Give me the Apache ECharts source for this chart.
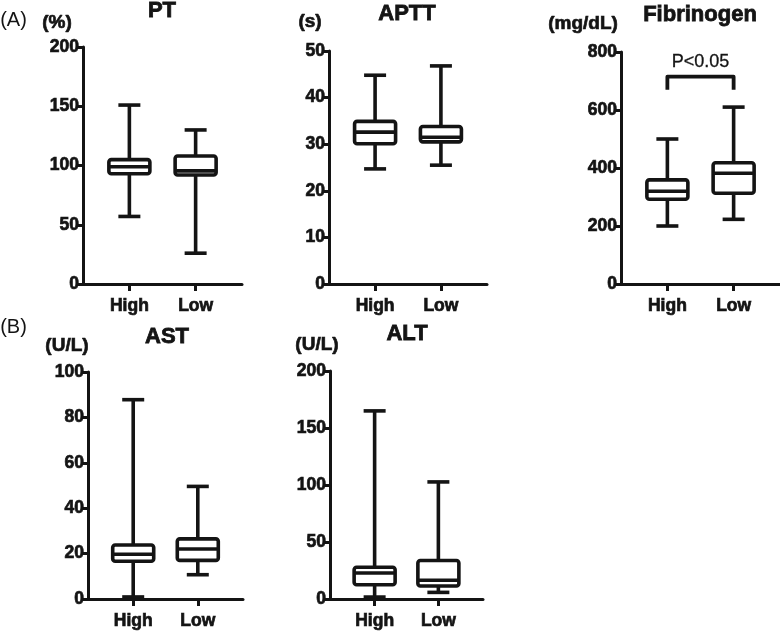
<!DOCTYPE html>
<html>
<head>
<meta charset="utf-8">
<script src="https://cdn.jsdelivr.net/npm/echarts@6/dist/echarts.min.js"></script>
<style>html,body{margin:0;padding:0;background:#fff}#c{width:780px;height:632px}</style>
</head>
<body>
<div id="c"></div>
<script>
// ---- data: [min, Q1, median, Q3, max] ----
const categories = ['High', 'Low'];
const ptHigh = [57, 93, 99, 105, 151];
const ptLow = [26, 92, 95.5, 108, 130];
const apttHigh = [24.7, 30.1, 32.6, 34.9, 44.8];
const apttLow = [25.5, 30.5, 31.5, 33.8, 46.8];
const fibHigh = [200, 292, 320, 359, 500];
const fibLow = [223, 313, 382, 418, 610];
const astHigh = [0.9, 16.6, 19.7, 23.8, 87.8];
const astLow = [10.7, 17, 22, 26.5, 49.6];
const altHigh = [1.7, 12.5, 22.8, 27.9, 165];
const altLow = [5.8, 11.4, 16.5, 33.8, 102.7];
const yMax = [200, 50, 800, 100, 200];
const yStep = [50, 10, 200, 20, 50];
const titles = ['PT', 'APTT', 'Fibrinogen', 'AST', 'ALT'];
const units = ['(%)', '(s)', '(mg/dL)', '(U/L)', '(U/L)'];
const fibBracket = [715, 670];   // bracket top, leg bottom (mg/dL)
const fibPText = 'P<0.05';
const fibPTextY = 764;

const panels = [[ptHigh, ptLow], [apttHigh, apttLow], [fibHigh, fibLow], [astHigh, astLow], [altHigh, altLow]];

const INK = '#141414';
const FONT = '"Liberation Sans", Arial, Helvetica, sans-serif';

const gridBoxes = [
  {left: 83, top: 47, width: 159, height: 237},
  {left: 329, top: 51, width: 158, height: 233},
  {left: 621, top: 52, width: 159, height: 232},
  {left: 88, top: 372, width: 155, height: 227},
  {left: 330, top: 371, width: 153, height: 228}
];

function boxRender(params, api) {
  const x = api.value(0);
  const v = [api.value(1), api.value(2), api.value(3), api.value(4), api.value(5)];
  const p = v.map(val => api.coord([x, val]));
  const cx = p[0][0];
  const hw = 20.5, cw = 11;
  const ls = {stroke: INK, lineWidth: 3.6, lineCap: 'butt'};
  return {
    type: 'group',
    children: [
      {type: 'line', shape: {x1: cx, y1: p[4][1], x2: cx, y2: p[3][1]}, style: ls},
      {type: 'line', shape: {x1: cx, y1: p[1][1], x2: cx, y2: p[0][1]}, style: ls},
      {type: 'line', shape: {x1: cx - cw, y1: p[4][1], x2: cx + cw, y2: p[4][1]}, style: ls},
      {type: 'line', shape: {x1: cx - cw, y1: p[0][1], x2: cx + cw, y2: p[0][1]}, style: ls},
      {type: 'rect', shape: {x: cx - hw, y: p[3][1], width: 2 * hw, height: p[1][1] - p[3][1], r: 2.5},
        style: {fill: '#fff', stroke: INK, lineWidth: 3.6, lineJoin: 'round'}},
      {type: 'line', shape: {x1: cx - hw, y1: p[2][1], x2: cx + hw, y2: p[2][1]}, style: ls}
    ]
  };
}

const labelStyle = {color: INK, fontWeight: 'bold', fontSize: 17.5, fontFamily: FONT,
  textBorderColor: INK, textBorderWidth: 0.7};

const grid = [], xAxis = [], yAxis = [], series = [];
panels.forEach((pair, i) => {
  grid.push(Object.assign({containLabel: false}, gridBoxes[i]));
  xAxis.push({
    type: 'value', gridIndex: i, min: 0.3, max: 2.7,
    axisLine: {show: true, onZero: false, lineStyle: {color: INK, width: 3}},
    axisTick: {show: true, customValues: [1, 2], length: 7, lineStyle: {color: INK, width: 3}},
    axisLabel: Object.assign({show: true, customValues: [1, 2],
      formatter: val => categories[Math.round(val) - 1], margin: 13}, labelStyle),
    splitLine: {show: false}
  });
  yAxis.push({
    type: 'value', gridIndex: i, min: 0, max: yMax[i], interval: yStep[i],
    axisLine: {show: true, onZero: false, lineStyle: {color: INK, width: 3}},
    axisTick: {show: true, length: 7, lineStyle: {color: INK, width: 3}},
    axisLabel: Object.assign({margin: 4}, labelStyle),
    splitLine: {show: false}
  });
  series.push({
    type: 'custom', xAxisIndex: i, yAxisIndex: i, clip: false,
    renderItem: boxRender,
    encode: {x: 0, y: [1, 2, 3, 4, 5]},
    data: [[1].concat(pair[0]), [2].concat(pair[1])],
    silent: true
  });
});

// significance bracket and label on Fibrinogen panel
series.push({
  type: 'custom', xAxisIndex: 2, yAxisIndex: 2, clip: false, silent: true,
  data: [[1, 2, fibBracket[0], fibBracket[1], fibPTextY]],
  encode: {x: [0, 1], y: [2, 3, 4]},
  renderItem: function (params, api) {
    const a = api.coord([api.value(0), api.value(3)]);
    const b = api.coord([api.value(0), api.value(2)]);
    const c = api.coord([api.value(1), api.value(2)]);
    const d = api.coord([api.value(1), api.value(3)]);
    const t = api.coord([(api.value(0) + api.value(1)) / 2, api.value(4)]);
    return {type: 'group', children: [
      {type: 'polyline', shape: {points: [a, b, c, d]},
        style: {stroke: INK, lineWidth: 3.8, fill: null, lineJoin: 'round'}},
      {type: 'text', x: t[0], y: t[1], style: {text: fibPText, fill: INK, font: '18px ' + FONT,
        align: 'center', verticalAlign: 'middle', stroke: INK, lineWidth: 0.3}}
    ]};
  }
});

const titlePos = [[162, 11], [407, 14], [700, 15], [167, 337], [407, 334]];
const unitPos = [[57, 23], [310, 22], [583, 24], [67, 346], [317, 345]];
const graphic = [];
titles.forEach((t, i) => {
  graphic.push({type: 'text', x: titlePos[i][0], y: titlePos[i][1],
    style: {text: t, fill: INK, font: 'bold 22px ' + FONT, align: 'center', verticalAlign: 'middle',
      stroke: INK, lineWidth: 0.8}});
  graphic.push({type: 'text', x: unitPos[i][0], y: unitPos[i][1],
    style: {text: units[i], fill: INK, font: 'bold 19px ' + FONT, align: 'center', verticalAlign: 'middle',
      stroke: INK, lineWidth: 0.7}});
});
graphic.push({type: 'text', x: 13.5, y: 20, style: {text: '(A)', fill: INK, font: '20px ' + FONT, align: 'center', verticalAlign: 'middle'}});
graphic.push({type: 'text', x: 13.5, y: 327, style: {text: '(B)', fill: INK, font: '20px ' + FONT, align: 'center', verticalAlign: 'middle'}});

const chart = echarts.init(document.getElementById('c'), null, {renderer: 'canvas'});
chart.setOption({
  animation: false,
  backgroundColor: '#fff',
  grid, xAxis, yAxis, series, graphic
});
</script>
</body>
</html>
